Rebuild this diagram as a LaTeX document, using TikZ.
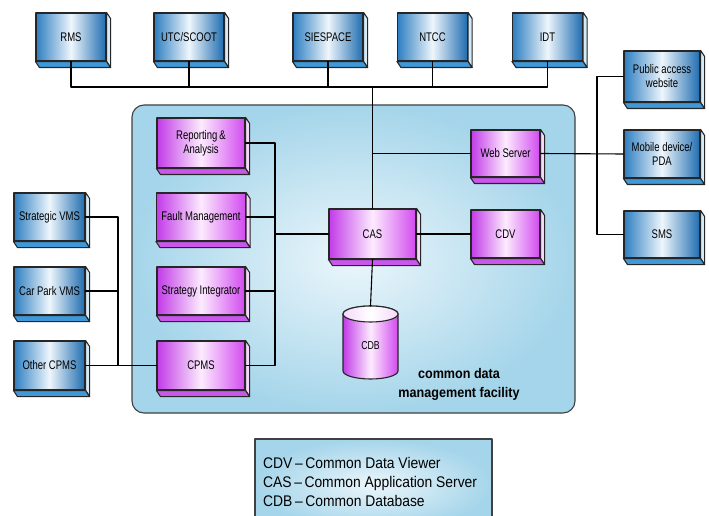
\documentclass[tikz,border=0pt]{standalone}
\usepackage{fontspec}
\setmainfont{Liberation Sans}
\newfontfamily\narrowsf{Liberation Sans}[FakeStretch=0.76]
\newfontfamily\widesf{Liberation Sans}[FakeStretch=0.9]
\definecolor{blueleft}{HTML}{2E7EC1}
\definecolor{blueright}{HTML}{1E6CB0}
\definecolor{blueinner}{HTML}{EEF6FC}
\definecolor{bottomblue}{HTML}{3F98D8}
\definecolor{sideblue}{HTML}{D6EBF8}
\definecolor{pinkleft}{HTML}{C23BE8}
\definecolor{pinkright}{HTML}{D24AF0}
\definecolor{pinkinner}{HTML}{FCEBFE}
\definecolor{bottompink}{HTML}{C957EB}
\definecolor{sidepink}{HTML}{F5D8FA}
\definecolor{facility}{HTML}{A5D5EA}
\definecolor{facilityin}{HTML}{EBF6FB}
\begin{document}
\begin{tikzpicture}[x=1bp, y=-1bp, line join=round, line cap=round, font=\narrowsf\fontsize{12.5bp}{14bp}\selectfont]
	\def\dx{4}
	\def\dy{6}
	\tikzset{edge/.style={draw=black!85, line width=1.1bp},
	unit/.style={edge, inner sep=0pt, align=center, minimum height=48bp},
	ext/.style={unit, left color=blueleft, right color=blueright, middle color=blueinner},
	int/.style={unit, left color=pinkleft, right color=pinkright, middle color=pinkinner},
	link/.style={line width=1.1bp, black}}
	\useasboundingbox (0,0) rectangle (709,516);
	\draw[edge, draw=black!75, rounded corners=12bp, inner color=facilityin, outer color=facility] (132,105) rectangle (575,413);
	\draw[edge, draw=black!75, inner color=facilityin, outer color=facility] (255,439) rectangle (492,530);
	\node[font=\widesf\fontsize{15.4bp}{19bp}\selectfont, align=left, anchor=north west, inner sep=0pt] (legend) at (263,457)
		{CDV\,–\,Common Data Viewer\\CAS\,–\,Common Application Server\\CDB\,–\,Common Database};
	\node[font=\widesf\bfseries\fontsize{14bp}{19bp}\selectfont, align=center, inner sep=0pt] (facname) at (459,384) {common data\\management facility};
	% outside systems
	\node[ext, minimum width=70bp] (rms) at (71,37) {RMS};
	\node[ext, minimum width=70bp] (utc) at (189,37) {UTC/SCOOT};
	\node[ext, minimum width=70bp] (siespace) at (328,37) {SIESPACE};
	\node[ext, minimum width=70bp] (ntcc) at (432.5,37) {NTCC};
	\node[ext, minimum width=70bp] (idt) at (547.5,37) {IDT};
	\node[ext, minimum width=76bp, minimum height=51bp] (public) at (662,76.5) {Public access\\website};
	\node[ext, minimum width=76bp] (mobile) at (662,154) {Mobile device/\\PDA};
	\node[ext, minimum width=76bp, minimum height=47bp] (sms) at (662,234.5) {SMS};
	\node[ext, minimum width=71bp] (stratvms) at (49.5,217) {Strategic VMS};
	\node[ext, minimum width=71bp] (carpark) at (49.5,291) {Car Park VMS};
	\node[ext, minimum width=71bp, minimum height=49bp] (othercpms) at (49.5,365.5) {Other CPMS};
	% inside the facility
	\node[int, minimum width=88bp, minimum height=50bp] (report) at (201,143) {Reporting\,\&\\Analysis};
	\node[int, minimum width=89bp] (fault) at (201,217) {Fault Management};
	\node[int, minimum width=88bp] (strategy) at (201,291) {Strategy Integrator};
	\node[int, minimum width=88bp, minimum height=49bp] (cpms) at (201,365.5) {CPMS};
	\node[int, minimum width=87bp, minimum height=50bp] (cas) at (372.5,234) {CAS};
	\node[int, minimum width=69bp, minimum height=47bp] (websrv) at (505.5,153.5) {Web Server};
	\node[int, minimum width=69bp] (cdv) at (505.5,234) {CDV};
	\foreach \n/\c in {rms/blue, utc/blue, siespace/blue, ntcc/blue, idt/blue, public/blue, mobile/blue, sms/blue,
		stratvms/blue, carpark/blue, othercpms/blue, report/pink, fault/pink, strategy/pink, cpms/pink, cas/pink, websrv/pink, cdv/pink}{
		\draw[edge, fill=side\c] (\n.north east) -- ++(\dx,\dy) -- ([shift={(\dx,\dy)}]\n.south east) -- (\n.south east) -- cycle;
		\draw[edge, fill=bottom\c] (\n.south west) -- ++(\dx,\dy) -- ([shift={(\dx,\dy)}]\n.south east) -- (\n.south east) -- cycle;}
	\draw[edge, left color=pinkleft, right color=pinkright, middle color=pinkinner] (343,314) -- (343,371) arc (180:0:27.5 and 8) -- (398,314) arc (0:-180:27.5 and 8) -- cycle;
	\draw[edge, left color=sidepink, right color=sidepink, middle color=white] (370.5,314) ellipse (27.5 and 8);
	\coordinate (cdbtop) at (370.5,306);
	\node[font=\narrowsf\fontsize{11.5bp}{13bp}\selectfont] (cdb) at (370.5,345.5) {CDB};
	% connectors
	\coordinate (topbus) at (0,87);
	\coordinate (rspine) at (597,0);
	\coordinate (lspine) at (275,0);
	\coordinate (ospine) at (118,0);
	\draw[link] (rms.south) -- (rms.south |- topbus) -| (idt.south);
	\foreach \n in {utc, siespace, ntcc}
		\draw[link] (\n.south) -- (\n.south |- topbus);
	\draw[link] (cas.north |- topbus) -- (cas.north);
	\draw[link] (cas.north |- websrv.west) -- (websrv.west);
	\draw[link] (websrv.east) -- (mobile.west);
	\draw[link] (public.west) -- (public.west -| rspine) |- (sms.west);
	\draw[link] (cas.east) -- (cdv.west);
	\draw[link] (cas.south) -- (cdbtop);
	\draw[link] (report.east) -- (report.east -| lspine) |- (cpms.east);
	\draw[link] (fault.east) -- (fault.east -| lspine);
	\draw[link] (strategy.east) -- (strategy.east -| lspine);
	\draw[link] (cas.west) -- (cas.west -| lspine);
	\draw[link] (stratvms.east) -- (stratvms.east -| ospine) |- (othercpms.east);
	\draw[link] (carpark.east) -- (carpark.east -| ospine);
	\draw[link] (othercpms.east) -- (cpms.west);
\end{tikzpicture}
\end{document}
